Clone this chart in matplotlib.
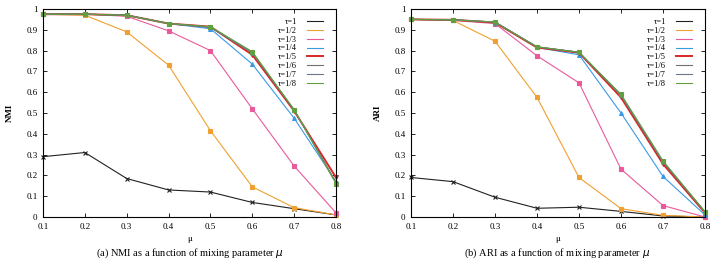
import matplotlib
matplotlib.use("Agg")
import matplotlib.pyplot as plt

mu = [0.1, 0.2, 0.3, 0.4, 0.5, 0.6, 0.7, 0.8]
labels = ["τ=1", "τ=1/2", "τ=1/3", "τ=1/4", "τ=1/5", "τ=1/6", "τ=1/7", "τ=1/8"]

nmi_t1 = [0.29, 0.31, 0.185, 0.13, 0.12, 0.07, 0.04, 0.01]
nmi_t2 = [0.975, 0.97, 0.89, 0.73, 0.415, 0.145, 0.045, 0.01]
nmi_t3 = [0.975, 0.975, 0.965, 0.895, 0.80, 0.52, 0.245, 0.02]
nmi_t4 = [0.975, 0.975, 0.97, 0.93, 0.905, 0.735, 0.475, 0.17]
nmi_t5 = [0.975, 0.975, 0.97, 0.93, 0.915, 0.78, 0.51, 0.19]
nmi_t6 = [0.975, 0.975, 0.97, 0.93, 0.912, 0.79, 0.515, 0.165]
nmi_t7 = [0.975, 0.975, 0.97, 0.93, 0.912, 0.79, 0.515, 0.165]
nmi_t8 = [0.975, 0.975, 0.97, 0.93, 0.915, 0.795, 0.515, 0.16]

ari_t1 = [0.19, 0.17, 0.095, 0.042, 0.047, 0.027, 0.005, 0.0]
ari_t2 = [0.95, 0.945, 0.845, 0.575, 0.19, 0.04, 0.008, 0.0]
ari_t3 = [0.95, 0.945, 0.93, 0.775, 0.645, 0.23, 0.055, 0.0]
ari_t4 = [0.95, 0.948, 0.935, 0.815, 0.78, 0.50, 0.195, 0.01]
ari_t5 = [0.95, 0.948, 0.935, 0.815, 0.79, 0.575, 0.255, 0.02]
ari_t6 = [0.95, 0.948, 0.937, 0.818, 0.792, 0.585, 0.265, 0.025]
ari_t7 = [0.95, 0.948, 0.937, 0.818, 0.792, 0.585, 0.265, 0.025]
ari_t8 = [0.95, 0.948, 0.937, 0.818, 0.792, 0.59, 0.27, 0.025]

nmi = [nmi_t1, nmi_t2, nmi_t3, nmi_t4, nmi_t5, nmi_t6, nmi_t7, nmi_t8]
ari = [ari_t1, ari_t2, ari_t3, ari_t4, ari_t5, ari_t6, ari_t7, ari_t8]

colors = ["#222222", "#f0a030", "#e85a9c", "#3a9ae8", "#d82828", "#707070", "#6a7888", "#60a040"]
markers = ["x", "s", "s", "^", "v", "o", "o", "s"]
widths = [0.8, 0.8, 0.8, 0.8, 1.4, 0.8, 0.8, 0.8]

plt.rcParams['font.family'] = ['Liberation Serif', 'DejaVu Serif']

fig = plt.figure(figsize=(7.10, 2.61), dpi=100)
axL = fig.add_axes([43/710, 1-217/261, 293/710, 208/261])
axR = fig.add_axes([411/710, 1-217/261, 294/710, 208/261])

for ax, data, ylab, cap, capx in [(axL, nmi, "NMI", "(a) NMI as a function of mixing parameter $\\mu$", 190/710),
                                   (axR, ari, "ARI", "(b) ARI as a function of mixing parameter $\\mu$", 557/710)]:
    for i, ys in enumerate(data):
        ax.plot(mu, ys, color=colors[i], lw=widths[i], marker=markers[i], ms=2.8,
                mew=0.8, label=labels[i], clip_on=False)
    ax.set_xlim(0.1, 0.8)
    ax.set_ylim(0, 1)
    ax.set_xticks(mu)
    ax.set_xticklabels([f"{v:.1f}" for v in mu])
    ax.set_yticks([0, 0.1, 0.2, 0.3, 0.4, 0.5, 0.6, 0.7, 0.8, 0.9, 1])
    ax.set_yticklabels(["0", "0.1", "0.2", "0.3", "0.4", "0.5", "0.6", "0.7", "0.8", "0.9", "1"])
    ax.tick_params(direction="in", top=True, right=True, labelsize=6.5, length=3, width=0.6, pad=4)
    for s in ax.spines.values():
        s.set_linewidth(0.8)
    ax.set_xlabel("μ", fontsize=6.5, labelpad=3)
    ax.set_ylabel(ylab, fontsize=6.5, fontweight="bold", labelpad=9)
    leg = ax.legend(loc="upper right", frameon=False, fontsize=6, markerfirst=False,
                    handlelength=1.9, labelspacing=0.1, handletextpad=1.2,
                    borderaxespad=0.3, bbox_to_anchor=(0.975, 0.985))
    for h in leg.get_lines():
        h.set_marker("")
    for t in leg.get_texts():
        t.set_ha("right")
    fig.text(capx, 1 - 246/261, cap, ha="center", va="top", fontsize=7.5)

fig.savefig("out.png", dpi=100)
